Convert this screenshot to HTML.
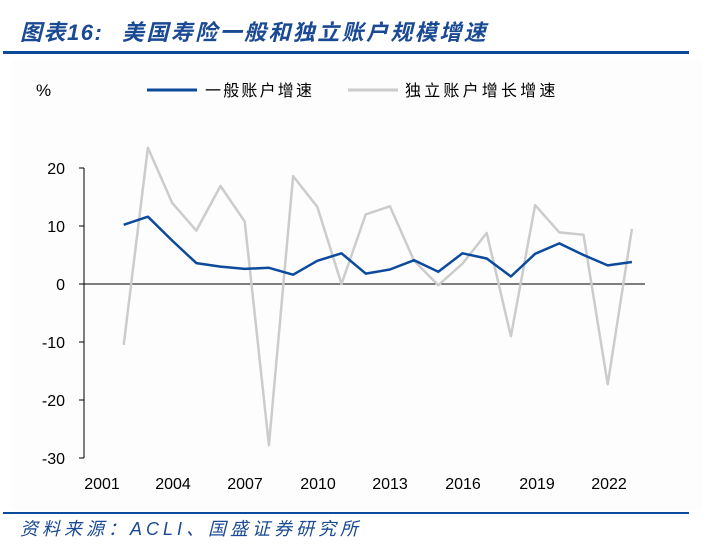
<!DOCTYPE html>
<html><head><meta charset="utf-8"><style>
body{margin:0;background:#fff;}
</style></head><body>
<svg width="714" height="554" xmlns="http://www.w3.org/2000/svg" style="display:block">
<rect width="714" height="554" fill="#fff"/>
<rect x="12" y="60" width="690" height="450" fill="#fdfdfd"/>
<text x="20" y="40" font-family="'Liberation Sans','Noto Sans CJK SC',sans-serif" font-size="22" font-weight="bold" font-style="italic" fill="#1a4a94" letter-spacing="1.5">图表16:<tspan x="122" letter-spacing="2.4">美国寿险一般和独立账户规模增速</tspan></text>
<rect x="3" y="51" width="686" height="3" fill="#0b4a9c"/>
<text x="36" y="96" font-family="'Liberation Sans',sans-serif" font-size="17" fill="#000">%</text>
<line x1="147" y1="90" x2="197" y2="90" stroke="#0b4a9c" stroke-width="3"/>
<text x="205" y="96" font-family="'Liberation Sans','Noto Sans CJK SC',sans-serif" font-size="16" letter-spacing="2.2" fill="#000">一般账户增速</text>
<line x1="348" y1="90" x2="398" y2="90" stroke="#cccccc" stroke-width="3"/>
<text x="405" y="96" font-family="'Liberation Sans','Noto Sans CJK SC',sans-serif" font-size="16" letter-spacing="3.2" fill="#000">独立账户增长增速</text>
<g stroke="#000" stroke-width="1">
<line x1="84" y1="168" x2="84" y2="458"/>
<line x1="79" y1="168" x2="84" y2="168"/><line x1="79" y1="226" x2="84" y2="226"/><line x1="79" y1="284" x2="84" y2="284"/><line x1="79" y1="342" x2="84" y2="342"/><line x1="79" y1="400" x2="84" y2="400"/><line x1="79" y1="458" x2="84" y2="458"/>
<line x1="84" y1="284" x2="645" y2="284"/>
</g>
<g font-family="'Liberation Sans',sans-serif" font-size="16" fill="#000" text-anchor="end">
<text x="65" y="174">20</text><text x="65" y="232">10</text><text x="65" y="290">0</text><text x="65" y="348">-10</text><text x="65" y="406">-20</text><text x="65" y="464">-30</text>
</g>
<g font-family="'Liberation Sans',sans-serif" font-size="16" fill="#000" text-anchor="middle">
<text x="102" y="489">2001</text><text x="173" y="489">2004</text><text x="245" y="489">2007</text><text x="318" y="489">2010</text><text x="390" y="489">2013</text><text x="463" y="489">2016</text><text x="537" y="489">2019</text><text x="609" y="489">2022</text>
</g>
<polyline fill="none" stroke="#cccccc" stroke-width="2.5" stroke-linejoin="round" points="123.7,344.9 147.9,147.7 172.1,202.8 196.3,230.6 220.5,186 244.7,221.4 268.9,445.2 293.1,176.1 317.3,206.9 341.5,284 365.7,214.4 389.9,206.3 414.1,260.8 438.3,285.2 462.5,263.7 486.7,233 510.9,336.2 535.1,205.1 559.3,232.4 583.5,234.7 607.7,384.3 631.9,228.9"/>
<polyline fill="none" stroke="#0b4a9c" stroke-width="2.5" stroke-linejoin="round" points="123.7,224.8 147.9,216.7 172.1,240.5 196.3,263.1 220.5,266.6 244.7,268.9 268.9,267.8 293.1,274.7 317.3,260.8 341.5,253.3 365.7,273.6 389.9,269.5 414.1,260.2 438.3,271.8 462.5,253.3 486.7,258.5 510.9,276.5 535.1,253.8 559.3,243.4 583.5,255 607.7,265.4 631.9,262"/>
<rect x="3" y="512" width="686" height="2" fill="#0b4a9c"/>
<text x="20" y="535" font-family="'Liberation Sans','Noto Sans CJK SC',sans-serif" font-size="18" font-style="italic" fill="#1a4a94" letter-spacing="4">资料来源：ACLI、国盛证券研究所</text>
</svg>
</body></html>
